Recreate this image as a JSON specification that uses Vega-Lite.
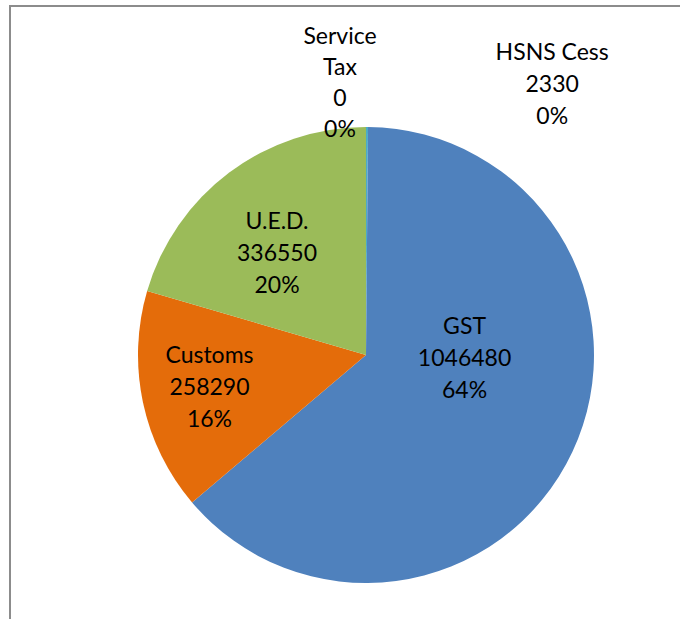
{
  "$schema": "https://vega.github.io/schema/vega-lite/v6.json",
  "autosize": "none",
  "padding": {"left": 10, "top": 6, "right": -42, "bottom": -85},
  "width": 712,
  "height": 698,
  "background": "white",
  "view": {"stroke": "#8C8C8C", "strokeWidth": 2},
  "config": {
    "view": {"stroke": "#8C8C8C", "strokeWidth": 2},
    "text": {"font": "Lato", "fontSize": 23, "color": "#000000"}
  },
  "data": {
    "values": [
      {"seq": 1, "category": "HSNS Cess", "value": 2330},
      {"seq": 2, "category": "GST", "value": 1046480},
      {"seq": 3, "category": "Customs", "value": 258290},
      {"seq": 4, "category": "U.E.D.", "value": 336550},
      {"seq": 5, "category": "Service Tax", "value": 0}
    ]
  },
  "transform": [
    {"joinaggregate": [{"op": "sum", "field": "value", "as": "total"}]},
    {"stack": "value", "groupby": [], "sort": [{"field": "seq", "order": "ascending"}], "as": ["v0", "v1"]},
    {"calculate": "datum.v0 / datum.total", "as": "t0"},
    {"calculate": "datum.v1 / datum.total", "as": "t1"},
    {"calculate": "(datum.v0 + datum.v1) / 2 / datum.total", "as": "mid"},
    {"calculate": "replace(datum.category, 'Service Tax', 'Service|Tax') + '|' + datum.value + '|' + format(datum.value / datum.total, '.0%')", "as": "label"}
  ],
  "layer": [
    {
      "mark": {"type": "arc", "outerRadius": 228},
      "encoding": {
        "theta": {"field": "t0", "type": "quantitative", "scale": {"domain": [0, 1]}},
        "theta2": {"field": "t1"},
        "color": {
          "field": "category",
          "type": "nominal",
          "legend": null,
          "scale": {
            "domain": ["HSNS Cess", "GST", "Customs", "U.E.D.", "Service Tax"],
            "range": ["#4BACC6", "#4F81BD", "#E46C0A", "#9BBB59", "#8064A2"]
          }
        }
      }
    },
    {
      "transform": [{"filter": "datum.category === 'GST'"}],
      "mark": {"type": "text", "lineBreak": "|", "lineHeight": 32, "dx": 8, "dy": -70},
      "encoding": {
        "theta": {"field": "mid", "type": "quantitative"},
        "radius": {"value": 100},
        "text": {"field": "label"}
      }
    },
    {
      "transform": [{"filter": "datum.category === 'Customs'"}],
      "mark": {"type": "text", "lineBreak": "|", "lineHeight": 32, "dy": -32},
      "encoding": {
        "theta": {"field": "mid", "type": "quantitative"},
        "radius": {"value": 160},
        "text": {"field": "label"}
      }
    },
    {
      "transform": [{"filter": "datum.category === 'U.E.D.'"}],
      "mark": {"type": "text", "lineBreak": "|", "lineHeight": 32, "dx": -8, "dy": -25},
      "encoding": {
        "theta": {"field": "mid", "type": "quantitative"},
        "radius": {"value": 135},
        "text": {"field": "label"}
      }
    },
    {
      "transform": [{"filter": "datum.category === 'Service Tax'"}],
      "mark": {"type": "text", "lineBreak": "|", "lineHeight": 31, "dx": -26, "dy": -46},
      "encoding": {
        "theta": {"field": "mid", "type": "quantitative"},
        "radius": {"value": 272},
        "text": {"field": "label"}
      }
    },
    {
      "transform": [{"filter": "datum.category === 'HSNS Cess'"}],
      "mark": {"type": "text", "lineBreak": "|", "lineHeight": 32, "dx": 185, "dy": -32},
      "encoding": {
        "theta": {"field": "mid", "type": "quantitative"},
        "radius": {"value": 270},
        "text": {"field": "label"}
      }
    }
  ]
}
